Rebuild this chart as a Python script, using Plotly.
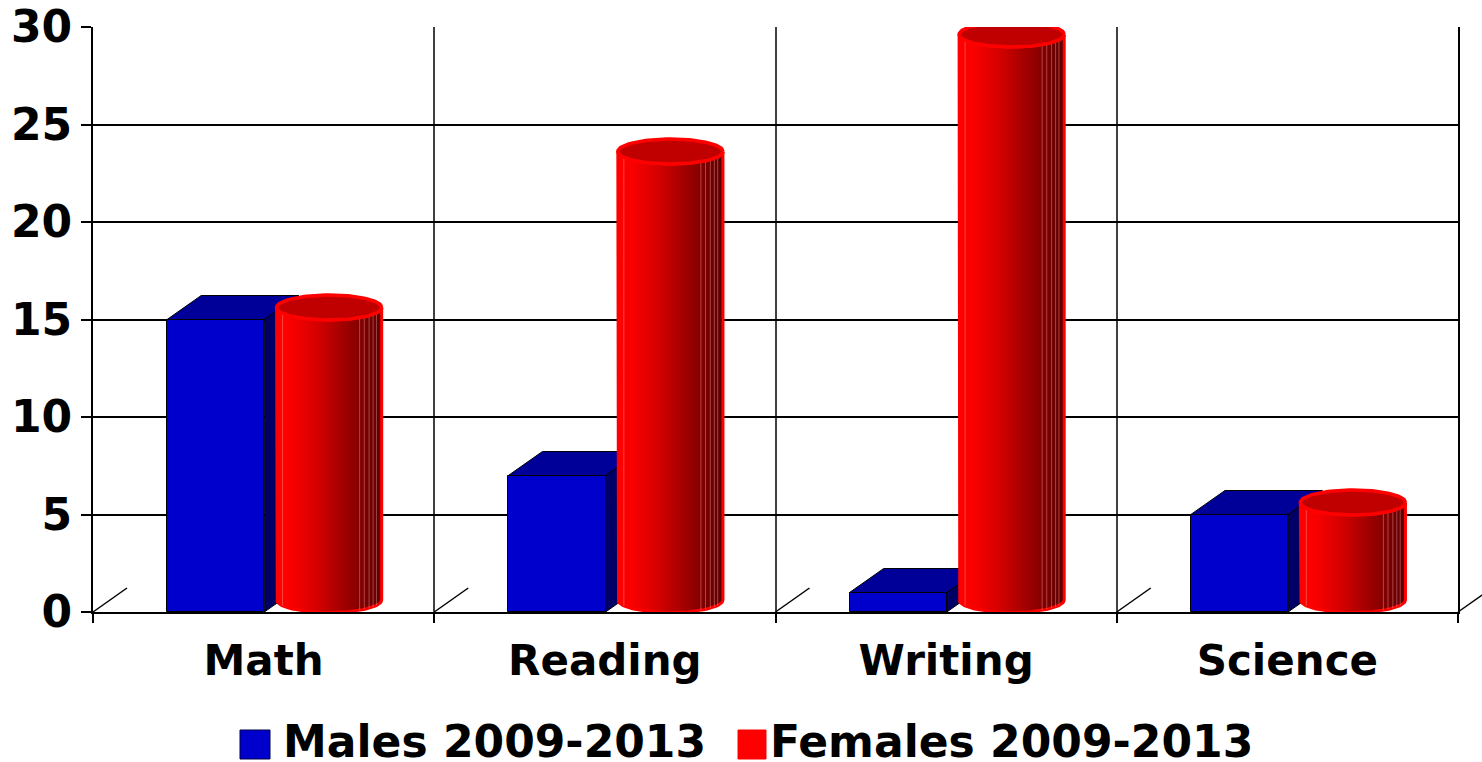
import numpy as np
import plotly.graph_objects as go

# ---------------- data ----------------
categories = ["Math", "Reading", "Writing", "Science"]
males = [15, 7, 1, 5]
females = [15, 23, 29, 5]
series_names = ["Males 2009-2013", "Females 2009-2013"]
y_ticks = [0, 5, 10, 15, 20, 25, 30]

# ---------------- style / geometry ----------------
W, H = 1482, 762
ML, MR, MT, MB = 93, 24, 27, 150
DX = 0.10      # 3D depth offset (category units)
DY = 1.23      # 3D depth offset (value units)
BOX_L, BOX_R = 0.217, 0.502
CYL_C, CYL_A, CYL_B, CYL_OFF = 0.692, 0.154, 0.64, 0.615
FONT = dict(family="DejaVu Sans", color="black", weight="bold")
BLUE_FRONT, BLUE_TOP, BLUE_SIDE = "#0000CC", "#000099", "#000066"
RED_SCALE = [[0, "#FF0000"], [0.15, "#F80000"], [0.4, "#D20000"],
             [0.6, "#A80000"], [0.8, "#820000"], [1, "#5A0000"]]

PW = W - ML - MR
PH = H - MT - MB


def px_x(px):
    return (px - ML) / PW


def px_y(py):
    return (H - MB - py) / PH


fig = go.Figure()
x_idx = np.arange(len(categories))

# front faces of male boxes
fig.add_trace(go.Bar(
    x=x_idx + (BOX_L + BOX_R) / 2, y=males, width=BOX_R - BOX_L,
    marker=dict(color=BLUE_FRONT, line=dict(color="black", width=1)),
    name=series_names[0], showlegend=False, hoverinfo="skip"))

# side and top faces of male boxes
for i, v in enumerate(males):
    xl, xr = i + BOX_L, i + BOX_R
    fig.add_trace(go.Scatter(
        x=[xr, xr, xr + DX, xr + DX, xr], y=[0, v, v + DY, DY, 0],
        fill="toself", fillcolor=BLUE_SIDE, mode="lines",
        line=dict(color="black", width=1), showlegend=False,
        hoverinfo="skip", cliponaxis=False))
    fig.add_trace(go.Scatter(
        x=[xl, xr, xr + DX, xl + DX, xl], y=[v, v, v + DY, v + DY, v],
        fill="toself", fillcolor=BLUE_TOP, mode="lines",
        line=dict(color="black", width=1), showlegend=False,
        hoverinfo="skip", cliponaxis=False))

# female cylinders
theta = np.linspace(np.pi, 2 * np.pi, 60)
theta_full = np.linspace(0, 2 * np.pi, 120)
for i, v in enumerate(females):
    cx = i + CYL_C
    a, b, c = CYL_A, CYL_B, CYL_OFF
    xb = cx + a * np.cos(theta)
    yb = c + b * np.sin(theta)
    yt = v + c + b * np.sin(theta)
    bx = np.concatenate([[cx - a], xb, [cx + a], xb[::-1]])
    by = np.concatenate([[v + c], yb, [v + c], yt[::-1]])
    fig.add_trace(go.Scatter(
        x=bx, y=by, fill="toself", mode="lines",
        fillgradient=dict(type="horizontal", colorscale=RED_SCALE,
                          start=cx - a, stop=cx + a),
        line=dict(color="#FF0000", width=3), showlegend=False,
        hoverinfo="skip", cliponaxis=False))
    # subtle vertical stripes
    sx, sy = [], []
    for f in [0.057, 0.79, 0.834, 0.88, 0.918, 0.95]:
        xs = cx - a + 2 * a * f
        dy = b * np.sqrt(max(0.0, 1 - ((xs - cx) / a) ** 2))
        sx += [xs, xs, None]
        sy += [c - dy, v + c - dy, None]
    fig.add_trace(go.Scatter(
        x=sx, y=sy, mode="lines",
        line=dict(color="rgba(255,170,170,0.4)", width=1),
        showlegend=False, hoverinfo="skip", cliponaxis=False))
    # top ellipse
    fig.add_trace(go.Scatter(
        x=cx + a * np.cos(theta_full), y=v + c + b * np.sin(theta_full),
        fill="toself", fillcolor="#C00000", mode="lines",
        line=dict(color="#FF0000", width=3.5), showlegend=False,
        hoverinfo="skip", cliponaxis=False))

# floor depth lines at category boundaries
shapes = []
for k in range(len(categories) + 1):
    x0 = k / len(categories)
    shapes.append(dict(type="line", xref="paper", yref="paper",
                       x0=x0, y0=0, x1=x0 + 34 / PW, y1=24 / PH,
                       line=dict(color="black", width=1.5)))

# manual legend
legend_items = [
    (series_names[0], BLUE_FRONT, "#000044", 240, 270, 281),
    (series_names[1], "#FF0000", "#FF0000", 738, 766, 768),
]
annotations = []
for name, col, lcol, x0, x1, tx in legend_items:
    shapes.append(dict(type="rect", xref="paper", yref="paper",
                       x0=px_x(x0), x1=px_x(x1), y0=px_y(759), y1=px_y(730),
                       fillcolor=col, line=dict(color=lcol, width=1)))
    annotations.append(dict(text=name, xref="paper", yref="paper",
                            x=px_x(tx), y=px_y(741), xanchor="left",
                            yanchor="middle", showarrow=False,
                            font=dict(**FONT, size=44)))

fig.update_layout(
    width=W, height=H,
    margin=dict(l=ML, r=MR, t=MT, b=MB, pad=0, autoexpand=False),
    plot_bgcolor="white", paper_bgcolor="white",
    showlegend=False, bargap=0,
    shapes=shapes, annotations=annotations,
    xaxis=dict(
        range=[0, len(categories)], tickmode="array", automargin=False,
        tickvals=x_idx + 0.5, ticktext=categories, ticks="",
        showgrid=False, zeroline=False,
        showline=True, linecolor="black", linewidth=2,
        tickfont=dict(**FONT, size=42), ticklabelstandoff=11,
        minor=dict(tick0=0, dtick=1, ticks="outside", ticklen=9,
                   tickcolor="black", tickwidth=1.5, showgrid=True,
                   gridcolor="#404040", gridwidth=1.5),
    ),
    yaxis=dict(
        range=[0, 30], tickmode="array", tickvals=y_ticks, automargin=False,
        ticks="outside", ticklen=10, tickcolor="black", tickwidth=1.5,
        showgrid=True, gridcolor="black", gridwidth=1.5,
        zeroline=False, showline=True, mirror=True,
        linecolor="black", linewidth=2,
        tickfont=dict(**FONT, size=44), ticklabelstandoff=0,
    ),
)

fig.write_html(
    "out.html", config=dict(displayModeBar=False),
    post_script="document.body.style.margin='0';"
                "document.body.style.overflow='hidden';")
